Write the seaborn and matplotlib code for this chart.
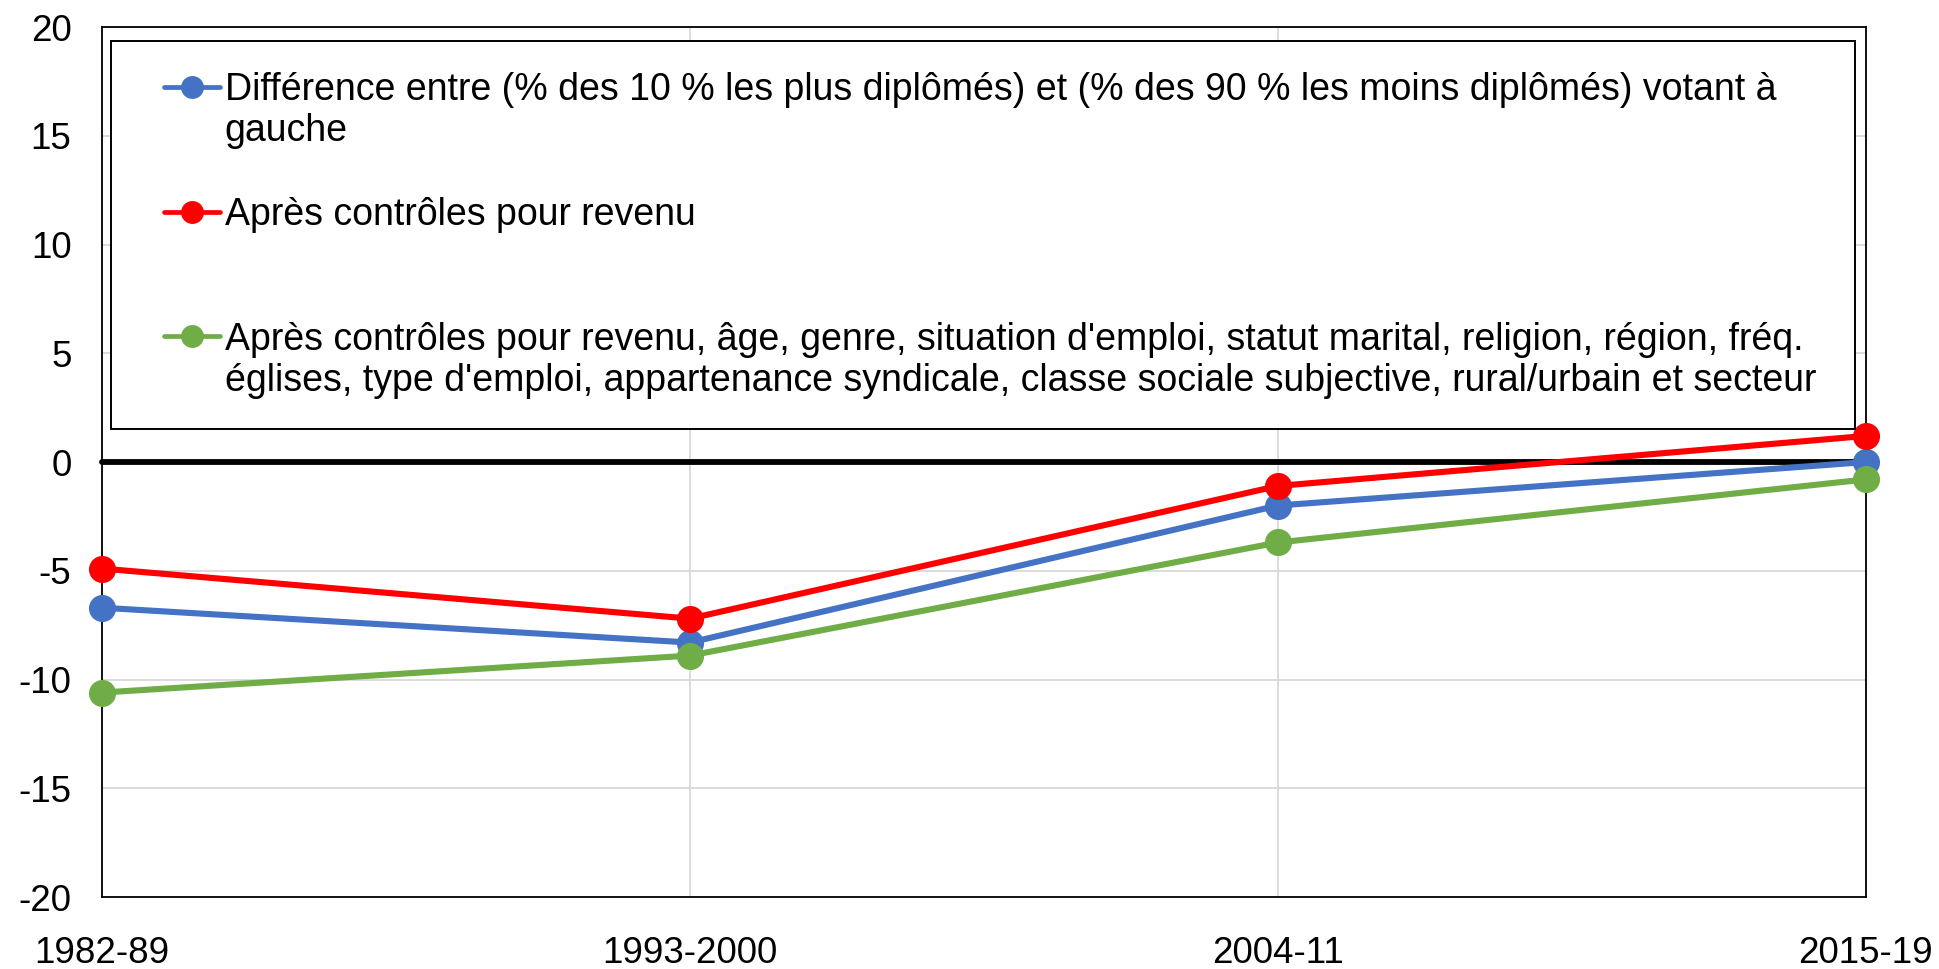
import matplotlib
matplotlib.use("Agg")
import matplotlib.pyplot as plt
from matplotlib.lines import Line2D
from matplotlib.patches import Rectangle
import seaborn as sns
import pandas as pd

# ---- data ----
periods = ["1982-89", "1993-2000", "2004-11", "2015-19"]
diff_values = [-6.7, -8.3, -2.0, 0.0]
revenu_values = [-4.9, -7.2, -1.1, 1.2]
full_values = [-10.6, -8.9, -3.7, -0.8]
series_names = [
    "Différence entre (% des 10 % les plus diplômés) et (% des 90 % les moins diplômés) votant à\ngauche",
    "Après contrôles pour revenu",
    "Après contrôles pour revenu, âge, genre, situation d'emploi, statut marital, religion, région, fréq.\néglises, type d'emploi, appartenance syndicale, classe sociale subjective, rural/urbain et secteur",
]
colors = ["#4472C4", "#FF0000", "#70AD47"]
y_ticks = [-20, -15, -10, -5, 0, 5, 10, 15, 20]

sns.set_theme(style="white")
plt.rcParams["font.family"] = ["Liberation Sans", "DejaVu Sans"]
plt.rcParams["axes.unicode_minus"] = False

rows = []
for name, vals in zip(series_names, [diff_values, revenu_values, full_values]):
    for p, v in zip(periods, vals):
        rows.append({"period": p, "value": v, "series": name})
df = pd.DataFrame(rows)

FS = 27
fig = plt.figure(figsize=(19.39, 9.69), dpi=100)
ax = fig.add_axes([0.0526, 0.0743, 0.9097, 0.8978])

ax.axhline(0, color="black", lw=4.2, zorder=1.5)

sns.lineplot(data=df, x="period", y="value", hue="series", hue_order=series_names,
             palette=colors, marker="o", markersize=19.5, markeredgewidth=0,
             linewidth=4.4, legend=False, sort=False, ax=ax, zorder=3)
for ln in ax.lines:
    ln.set_clip_on(False)

ax.set_xlim(0, len(periods) - 1)
ax.set_ylim(-20, 20)
ax.set_yticks(y_ticks)
ax.set_yticklabels([str(t) for t in y_ticks])
ax.set_xticks(range(len(periods)))
ax.set_xticklabels(periods)
ax.set_xlabel("")
ax.set_ylabel("")
ax.tick_params(axis="y", length=0, pad=22, labelsize=26.5, colors="black")
ax.tick_params(axis="x", length=0, pad=28, labelsize=26.5, colors="black")
ax.grid(True, color="#d9d9d9", lw=1.3, zorder=0)
ax.set_axisbelow(True)
for s in ax.spines.values():
    s.set_visible(True)
    s.set_color("black")
    s.set_linewidth(1.3)

# legend box
ax.add_patch(Rectangle((0.0051, 0.538), 0.9887, 0.446, transform=ax.transAxes,
                       facecolor="white", edgecolor="black", lw=1.4, zorder=4))

handles, labels = [], []
blank = Line2D([], [], linestyle="none")
for i, (name, c) in enumerate(zip(series_names, colors)):
    lines = name.split("\n")
    h = Line2D([], [], color=c, lw=3.4, marker="o", markersize=16.5, markeredgewidth=0)
    handles.append(h); labels.append(lines[0])
    for extra in lines[1:]:
        handles.append(blank); labels.append(extra)
    if i == 0:
        handles.append(blank); labels.append(" ")
    if i == 1:
        handles += [blank, blank]; labels += [" ", " "]
leg = ax.legend(handles, labels, loc="upper left", bbox_to_anchor=(0.0351, 0.9485),
                frameon=False, fontsize=FS, handlelength=1.5, handletextpad=0.12,
                labelspacing=0.15, borderpad=0, borderaxespad=0, numpoints=1)
leg.set_zorder(5)
for t in leg.get_texts():
    t.set_color("black")

fig.savefig("out.png", dpi=100, facecolor="white")
